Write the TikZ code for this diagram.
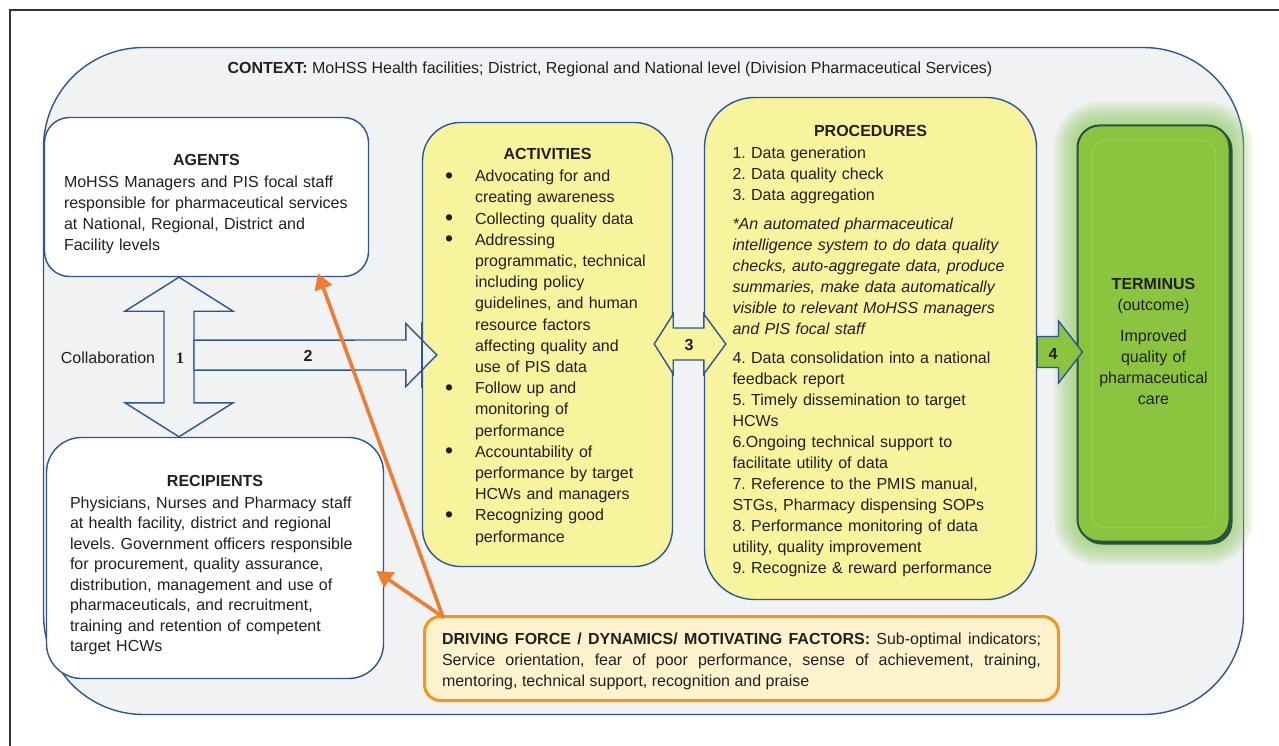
\documentclass[tikz,border=0pt]{standalone}
\usepackage{fontspec}
\setmainfont{Liberation Sans}
\newfontfamily\numserif{Liberation Serif}
\usetikzlibrary{arrows.meta,calc}

\definecolor{ctxgray}{RGB}{241,242,244}
\definecolor{boxblue}{RGB}{44,86,152}
\definecolor{padyellow}{RGB}{248,243,157}
\definecolor{dfyellow}{RGB}{255,243,206}
\definecolor{dforange}{RGB}{247,148,29}
\definecolor{linkorange}{RGB}{238,125,49}
\definecolor{termgreen}{RGB}{139,196,63}
\definecolor{termlight}{RGB}{152,205,72}
\definecolor{termedge}{RGB}{40,82,66}
\definecolor{termglow}{RGB}{150,205,100}
\definecolor{inktext}{RGB}{35,31,32}

\newcommand\boxfont{\fontsize{16}{21}\selectfont\parindent=0pt\frenchspacing\relax}
% #1 = height of the first line, which pushes the whole text down
\newcommand\boxhead[2]{\hfill\rule{0pt}{#1}\textbf{#2}\hfill\null\\[1pt]}
\newcommand\bul{\makebox[30pt][l]{{\fontsize{23}{21}\selectfont\raisebox{-1.5pt}{\textbullet}}}}
\newcommand\ind{\hspace*{30pt}}

\tikzset{
  every node/.style={text=inktext, font=\boxfont},
  whitebox/.style={draw=boxblue, line width=1.4pt, fill=white, align=left},
  padbox/.style={draw=boxblue, line width=1.4pt, fill=padyellow, align=left},
  termbox/.style={draw=termedge, line width=2pt, fill=termgreen, align=center,
    rounded corners=22pt, minimum width=152pt, minimum height=416pt, text width=130pt},
  blockarrow/.style={draw=boxblue, line width=1.4pt, line join=miter},
  linkarrow/.style={draw=linkorange, line width=3.6pt, line cap=round,
    -{Triangle[length=16pt,width=18pt]}},
  numlabel/.style={font=\boxfont\bfseries}
}

\begin{document}
\begin{tikzpicture}[x=1pt,y=-1pt]
\useasboundingbox (0,0) rectangle (1279,746);
% outer frame
\draw[line width=1.2pt, black!80] (10,746) -- (10,10) -- (1279,10);
% context
\node[draw=boxblue, line width=1.4pt, fill=ctxgray, rounded corners=100pt,
  minimum width=1200pt, minimum height=667pt] (context) at (643.5,381) {};
\node (ctxtext) at ($(context.north)+(-33.5,23)$) {\textbf{CONTEXT:} MoHSS Health facilities; District, Regional and National level (Division Pharmaceutical Services)};

% agents and recipients
\node[whitebox, rounded corners=25pt, minimum width=324pt, minimum height=159pt, text width=285pt]
  (agents) at (206.5,197) {\boxhead{25.5pt}{AGENTS}MoHSS Managers and PIS focal staff\\
  responsible for pharmaceutical services\\
  at National, Regional, District and\\
  Facility levels};
\node[whitebox, rounded corners=35pt, minimum width=337pt, minimum height=241pt, text width=290pt]
  (recipients) at (215,558) {\boxhead{25pt}{RECIPIENTS}Physicians, Nurses and Pharmacy staff\\[-0.5pt]
  at health facility, district and regional\\[-0.5pt]
  levels. Government officers responsible\\[-0.5pt]
  for procurement, quality assurance,\\[-0.5pt]
  distribution, management and use of\\[-0.5pt]
  pharmaceuticals, and recruitment,\\[-0.5pt]
  training and retention of competent\\[-0.5pt]
  target HCWs};

% activities and procedures
\node[padbox, rounded corners=38pt, minimum width=250pt, minimum height=444pt, text width=205pt]
  (activities) at (547.5,344.5) {\boxhead{16pt}{ACTIVITIES}\bul Advocating for and\\[0.2pt]
  \ind creating awareness\\[0.2pt]
  \bul Collecting quality data\\[0.2pt]
  \bul Addressing\\[0.2pt]
  \ind programmatic, technical\\[0.2pt]
  \ind including policy\\[0.2pt]
  \ind guidelines, and human\\[0.2pt]
  \ind resource factors\\[0.2pt]
  \ind affecting quality and\\[0.2pt]
  \ind use of PIS data\\[0.2pt]
  \bul Follow up and\\[0.2pt]
  \ind monitoring of\\[0.2pt]
  \ind performance\\[0.2pt]
  \bul Accountability of\\[0.2pt]
  \ind performance by target\\[0.2pt]
  \ind HCWs and managers\\[0.2pt]
  \bul Recognizing good\\[0.2pt]
  \ind performance};
\node[padbox, rounded corners=50pt, minimum width=332pt, minimum height=502pt, text width=276pt]
  (procedures) at (870.5,348.5) {\boxhead{17pt}{PROCEDURES}1. Data generation\\
  2. Data quality check\\
  3. Data aggregation\\[8pt]
  {\itshape *An automated pharmaceutical\\
  intelligence system to do data quality\\
  checks, auto-aggregate data, produce\\
  summaries, make data automatically\\
  visible to relevant MoHSS managers\\
  and PIS focal staff}\\[8pt]
  4. Data consolidation into a national\\
  feedback report\\
  5. Timely dissemination to target\\
  HCWs\\
  6.Ongoing technical support to\\
  facilitate utility of data\\
  7. Reference to the PMIS manual,\\
  STGs, Pharmacy dispensing SOPs\\
  8. Performance monitoring of data\\
  utility, quality improvement\\
  9. Recognize \& reward performance};

% driving force
\node[draw=dforange, line width=3pt, fill=dfyellow, rounded corners=16pt, align=justify,
  minimum width=634pt, minimum height=84pt, text width=599pt]
  (driving) at (741.5,658.5) {\rule{0pt}{17.5pt}\textbf{DRIVING FORCE / DYNAMICS/ MOTIVATING FACTORS:} Sub-optimal indicators;\linebreak
  Service orientation, fear of poor performance, sense of achievement, training,\linebreak
  mentoring, technical support, recognition and praise};

% terminus with glow
\coordinate (termc) at (1153.5,333.5);
\foreach \g in {2,4,...,24}
  \fill[termglow, opacity=0.09, rounded corners={(22+\g)*1pt}]
    ($(termc)+(-76-\g,-208-\g)$) rectangle ($(termc)+(76+\g,208+\g)$);
\fill[termedge, rounded corners=22pt] ($(termc)+(-74,-206)$) rectangle ($(termc)+(79,211)$);
\node[termbox] (terminus) at (termc) {\rule{0pt}{27pt}\textbf{TERMINUS}\\(outcome)\\[10pt]Improved\\quality of\\pharmaceutical\\care};
\draw[termlight, line width=1.5pt, rounded corners=14pt]
  ([shift={(15pt,-16pt)}]terminus.north west) rectangle ([shift={(-15pt,15pt)}]terminus.south east);

% block arrows
\coordinate (colltop) at ($(agents.south)+(-27.5,0)$);
\coordinate (collbot) at ($(recipients.north)+(-36,0)$);
\draw[blockarrow, fill=ctxgray] (colltop) -- ++(54,34) -- ++(-39,0) -- ($(collbot)+(15,-34)$)
  -- ++(39,0) -- (collbot) -- ++(-54,-34) -- ++(39,0) -- ($(colltop)+(-15,34)$) -- ++(-39,0) -- cycle;
\coordinate (feedbase) at ($(colltop)+(15,78)$);
\coordinate (feedtip) at ($(activities.west)+(15,10.5)$);
\draw[blockarrow, fill=ctxgray] ($(feedbase)+(0,-15)$) -- ($(feedtip)+(-31,-15)$) -- ++(0,-16.5)
  -- (feedtip) -- ++(-31,31.5) -- ++(0,-16.5) -- ($(feedbase)+(0,15)$) -- cycle;
\draw[boxblue, line width=1.4pt] ($(activities.west)+(0,-23)$) -- ($(activities.west)+(0,43)$);
\coordinate (linkl) at ($(activities.east)+(-19,-0.5)$);
\coordinate (linkr) at ($(procedures.west)+(22,-4.5)$);
\draw[blockarrow, fill=padyellow] (linkl) -- ++(19,-30) -- ++(0,14) -- ($(linkr)+(-22,-16)$)
  -- ++(0,-14) -- (linkr) -- ++(-22,30) -- ++(0,-14) -- ($(linkl)+(19,16)$) -- ++(0,14) -- cycle;
\coordinate (outbase) at ($(procedures.east)+(0,3.5)$);
\coordinate (outtip) at ($(terminus.west)+(6,18.5)$);
\draw[blockarrow, fill=termgreen] ($(outbase)+(0,-15.5)$) -- ($(outtip)+(-24,-15.5)$) -- ++(0,-15.5)
  -- (outtip) -- ++(-24,31) -- ++(0,-15.5) -- ($(outbase)+(0,15.5)$) -- cycle;

% arrow labels
\node (collab) at (108,358) {Collaboration};
\node[font=\boxfont\numserif\bfseries] (n1) at (180,358) {1};
\node[numlabel] (n2) at (308,356) {2};
\node[numlabel] (n3) at (689,345) {3};
\node[numlabel] (n4) at (1053,354) {4};

% driving force links
\coordinate (drive) at ($(driving.north west)+(20,2)$);
\draw[linkarrow] (drive) -- ($(agents.south)+(111.5,-4)$);
\draw[linkarrow] (drive) -- ($(recipients.east)+(-8,13)$);
\end{tikzpicture}
\end{document}
